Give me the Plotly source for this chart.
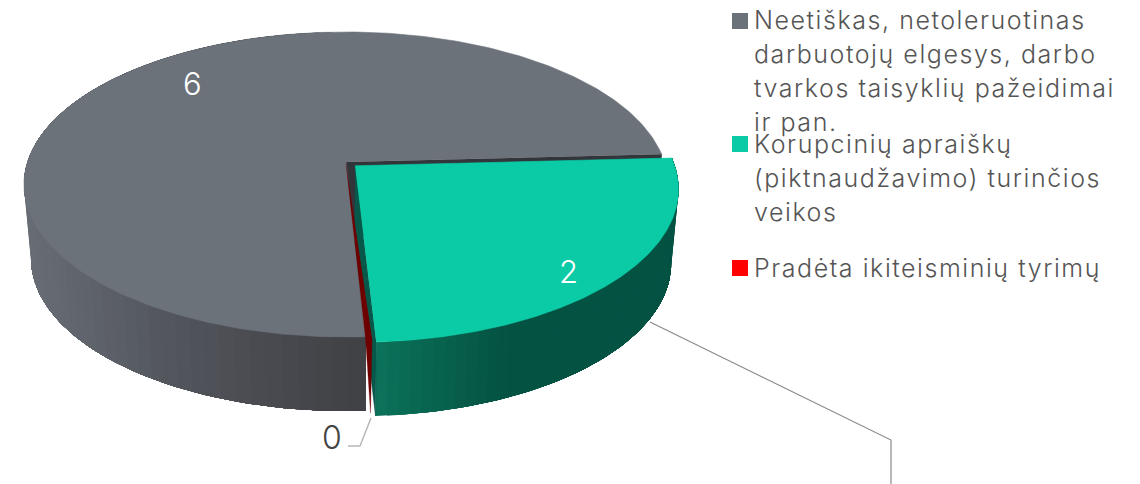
import numpy as np
import plotly.graph_objects as go

categories = ["Neetiškas, netoleruotinas darbuotojų elgesys, darbo tvarkos taisyklių pažeidimai ir pan.",
              "Korupcinių apraiškų (piktnaudžavimo) turinčios veikos",
              "Pradėta ikiteisminių tyrimų"]
values = [6, 2, 0]
value_labels = ["6", "2", "0"]
top_colors = ["#6c727a", "#0acba6", "#fe0000"]
legend_lines = [["Neetiškas, netoleruotinas", "darbuotojų elgesys, darbo", "tvarkos taisyklių pažeidimai", "ir pan."],
                ["Korupcinių apraiškų", "(piktnaudžavimo) turinčios", "veikos"],
                ["Pradėta ikiteisminių tyrimų"]]

# Projection of the tilted disc onto the page
X0, Y0, B, A, K, DEPTH, SHRINK = 346.0, 162.0, 318.5, 149.2, 0.1475, 74.0, 0.978
START = 3.0
EXPLODE = 0.038
FONT = "Inter"
TEXT = "#555555"
GRAY_WALL_X = [24, 150, 280, 365]
GRAY_WALL_C = ["#686d75", "#54575e", "#46484d", "#3e4044"]
GREEN_WALL_X = [375, 503, 680]
GREEN_WALL_C = ["#0b7159", "#045242", "#045242"]

def proj(u, v, bottom=False):
    u, v = np.asarray(u, float), np.asarray(v, float)
    d = 1 + K * v
    x = B * u / d
    y = -A * v / d
    if bottom:
        return X0 + x * SHRINK, Y0 + y + DEPTH
    return X0 + x, Y0 + y

def rim(a0, a1, n=160):
    return np.radians(np.linspace(a0, a1, n))

def ramp(px, stops, colors):
    rgb = [[int(c[i:i+2], 16) for i in (1, 3, 5)] for c in colors]
    return "#%02x%02x%02x" % tuple(round(float(np.interp(px, stops, [c[k] for c in rgb]))) for k in range(3))

fig = go.Figure()

def poly(xs, ys, color, lw=0.6):
    fig.add_trace(go.Scatter(x=list(xs), y=list(ys), mode="lines", fill="toself", fillcolor=color,
                             line=dict(color=color, width=lw), hoverinfo="skip", showlegend=False))

def wall(a0, a1, stops, colors, off=(0, 0), n=48):
    # Every strip runs on to the far end of the wall and the next one paints over it, so no seams show.
    edges = np.linspace(a0, a1, n + 1)
    for i in range(n):
        th = rim(edges[i], a1, max(3, 2 * (n - i)))
        u, v = np.cos(th) + off[0], np.sin(th) + off[1]
        xt, yt = proj(u, v)
        xb, yb = proj(u, v, True)
        poly(np.r_[xt, xb[::-1]], np.r_[yt, yb[::-1]], ramp(xt[0], stops, colors), lw=0)

total = sum(values)
green_sweep = values[1] / total * 360
gray_sweep = values[0] / total * 360
g_start, g_end = START, START - green_sweep
red_sweep = 1.0                                # a zero share still gets a hairline in the original
gray_end = g_end
gray_begin = gray_end - gray_sweep

# Gray slice: outer wall, inner wall, top
wall(gray_begin + 90, gray_end, GRAY_WALL_X, GRAY_WALL_C, n=70)
xt, yt = proj([0, np.cos(np.radians(START))], [0, np.sin(np.radians(START))])
xb, yb = proj([0, np.cos(np.radians(START))], [0, np.sin(np.radians(START))], True)
poly([xt[0], xt[1], xb[1], xb[0]], [yt[0], yt[1], yb[1], yb[0]], "#32363b")
th = rim(gray_end, gray_begin, 300)
x, y = proj(np.r_[0, np.cos(th)], np.r_[0, np.sin(th)])
poly(x, y, top_colors[0])

# Green slice exploded along its bisector
mid = np.radians((g_start + g_end) / 2)
off = (EXPLODE * np.cos(mid), EXPLODE * np.sin(mid))
wall(g_end, g_start, GREEN_WALL_X, GREEN_WALL_C, off=off, n=50)
a = np.radians(g_end)
ux, vx = np.array([off[0], off[0] + np.cos(a)]), np.array([off[1], off[1] + np.sin(a)])
xt, yt = proj(ux, vx)
xb, yb = proj(ux, vx, True)
poly([xt[0], xt[1], xb[1], xb[0]], [yt[0], yt[1], yb[1], yb[0]], "#06584a")

# Red hairline slice
th0, th1 = np.radians(g_end), np.radians(g_end + red_sweep)
red_off = 0.012
xa, ya = proj(0, -red_off)
x0_, y0_ = proj(np.cos(th0), np.sin(th0) - red_off)
x1_, y1_ = proj(np.cos(th1), np.sin(th1) - red_off)
xm_, ym_ = proj(np.cos((th0 + th1) / 2) + 0.006, np.sin((th0 + th1) / 2) - red_off, True)
poly([xa, x0_, xm_, x1_], [ya, y0_, ym_, y1_], "#6e0000", lw=0.3)

# Green top
th = rim(g_start, g_end, 200)
x, y = proj(np.r_[off[0], off[0] + np.cos(th)], np.r_[off[1], off[1] + np.sin(th)])
poly(x, y, top_colors[1])

# Leader lines
fig.add_trace(go.Scatter(x=[650, 891, 891], y=[322, 440, 484], mode="lines",
                         line=dict(color="#8a8a8e", width=1.2), hoverinfo="skip", showlegend=False))
fig.add_trace(go.Scatter(x=[371, 360, 348], y=[418, 446, 446], mode="lines",
                         line=dict(color="#b8b8b8", width=1.5), hoverinfo="skip", showlegend=False))

# Legend markers
for yc, col in zip([21, 144, 268], top_colors):
    fig.add_trace(go.Scatter(x=[740], y=[yc], mode="markers",
                             marker=dict(symbol="square", size=16, color=col, line=dict(width=0)),
                             hoverinfo="skip", showlegend=False))

ann = []
for (px, py, t, c, s) in [(192, 83, value_labels[0], "#ffffff", 31),
                          (568, 271, value_labels[1], "#ffffff", 31),
                          (332, 437, value_labels[2], "#444444", 32)]:
    ann.append(dict(x=px, y=py, text=t, showarrow=False, font=dict(family=FONT, size=s, color=c, weight=300),
                    xanchor="center", yanchor="middle"))
for block, y0 in zip(legend_lines, [20, 144, 268]):
    for i, line in enumerate(block):
        ann.append(dict(x=752, y=y0 + 34 * i, text=line, showarrow=False, xanchor="left", yanchor="middle",
                        font=dict(family=FONT, size=25, color=TEXT, weight=300)))

fig.update_layout(width=1140, height=484, margin=dict(l=0, r=0, t=0, b=0),
                  paper_bgcolor="white", plot_bgcolor="white", annotations=ann,
                  xaxis=dict(range=[0, 1140], visible=False, fixedrange=True),
                  yaxis=dict(range=[484, 0], visible=False, fixedrange=True))
fig.write_html("out.html", config=dict(displayModeBar=False),
               post_script="document.documentElement.style.margin='0';document.body.style.margin='0';"
                           "document.querySelectorAll('.annotation-text').forEach(function(t){"
                           "if(t.textContent.length>1){var b=t.getBBox().x;t.style.letterSpacing='1.55px';"
                           "var a=t.getBBox().x;t.setAttribute('x',parseFloat(t.getAttribute('x'))+b-a);}});")
